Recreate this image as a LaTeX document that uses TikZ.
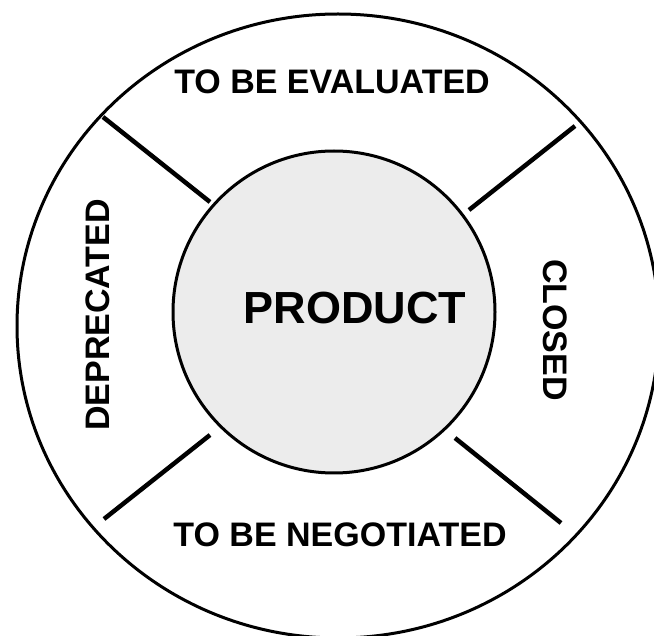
\documentclass[tikz,border=0pt]{standalone}
\usepackage{fontspec}
\usetikzlibrary{shapes.geometric}
\setmainfont{Liberation Sans}
\begin{document}
\begin{tikzpicture}[x=1pt,y=-1pt,
  lbl/.style={font=\fontsize{34}{36}\selectfont\bfseries, inner sep=0pt},
  sep/.style={line width=4.5pt}]
\useasboundingbox (0,0) rectangle (654,636);
\clip (0,0) rectangle (654,636);
\node[draw, line width=3pt, ellipse, minimum width=642pt, minimum height=624pt, inner sep=0pt] (outer) at (338,326) {};
\node[draw, line width=3pt, circle, fill={rgb,255:red,236;green,236;blue,236}, minimum size=322pt, inner sep=0pt] (inner) at (334,312) {};
\coordinate (a1) at (103,117); \coordinate (a2) at (210,202);
\coordinate (b1) at (575,126); \coordinate (b2) at (469,210);
\coordinate (c1) at (104,519); \coordinate (c2) at (210,435);
\coordinate (d1) at (561,523); \coordinate (d2) at (455,438);
\draw[sep] (a1) -- (a2);
\draw[sep] (b1) -- (b2);
\draw[sep] (c1) -- (c2);
\draw[sep] (d1) -- (d2);
\node[lbl] (top) at (332,82) {TO BE EVALUATED};
\node[lbl] (bot) at (340,535) {TO BE NEGOTIATED};
\node[lbl, rotate=90] (left) at (98,315) {DEPRECATED};
\node[lbl, rotate=-90] (right) at (555,330) {CLOSED};
\node[font=\fontsize{45}{48}\selectfont\bfseries, inner sep=0pt] (prod) at (355,308) {PRODUCT};
\end{tikzpicture}
\end{document}
